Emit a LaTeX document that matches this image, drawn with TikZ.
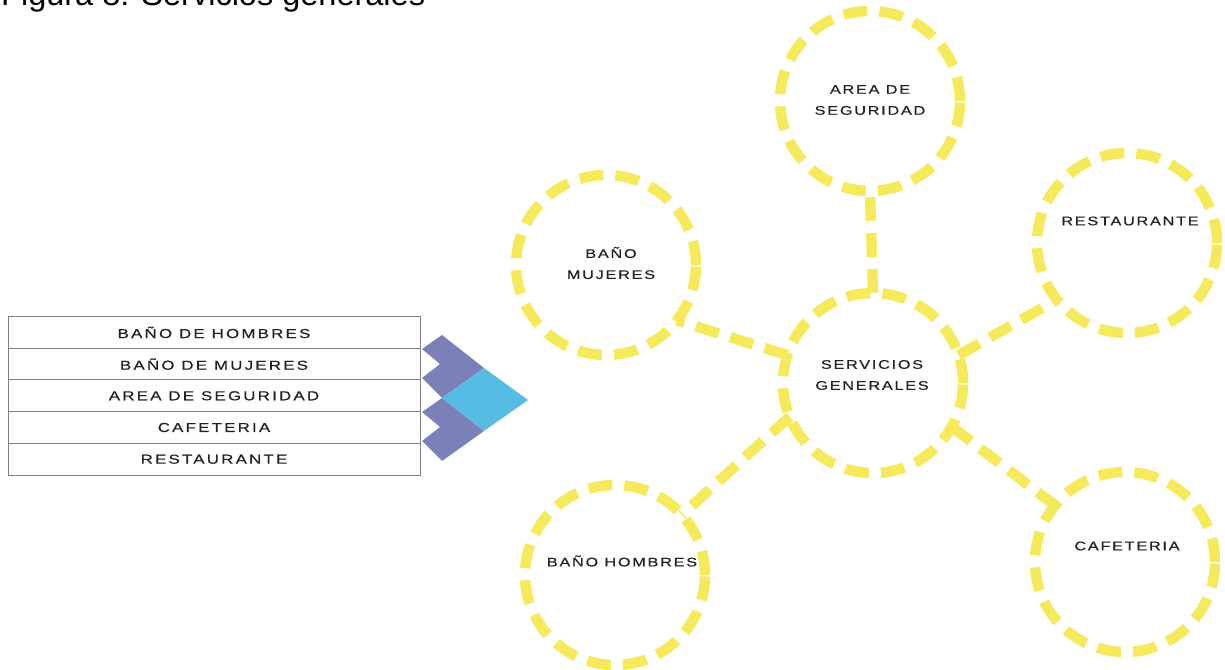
\documentclass[tikz,border=0pt]{standalone}
\usepackage{fontspec}
\setmainfont{Liberation Sans}
\newfontfamily\rotulofont[FakeStretch=1.3,LetterSpace=14,FakeBold=0.5]{Liberation Sans}
\newfontfamily\filafont[FakeStretch=1.3,LetterSpace=17,FakeBold=0.5]{Liberation Sans}
\usetikzlibrary{positioning}

\definecolor{amarillo}{RGB}{244,234,92}
\definecolor{morado}{RGB}{123,128,184}
\definecolor{celeste}{RGB}{86,188,228}
\definecolor{borde}{RGB}{128,128,128}
\definecolor{texto}{RGB}{34,34,34}

\tikzset{
  zona/.style={circle, draw=amarillo, line width=10.5pt, dash pattern=on 24pt off 12pt,
    minimum size=180pt, inner sep=0pt, outer sep=0pt},
  enlace/.style={draw=amarillo, line width=10.5pt, dash pattern=on 24pt off 12pt},
  rotulo/.style={font=\rotulofont\fontsize{12.5}{21}\selectfont, text=texto,
    align=center, inner sep=0pt},
  fila/.style={draw=borde, line width=1pt, minimum width=412pt, minimum height=31.7pt,
    inner sep=0pt, outer sep=0pt, font=\filafont\fontsize{13}{13}\selectfont, text=texto},
  titulo/.style={font=\fontsize{32.5}{36}\selectfont, inner sep=0pt}
}

\begin{document}
\begin{tikzpicture}[x=1pt,y=-1pt]
          \useasboundingbox (0,0) rectangle (1225,669);
          \node[titulo, anchor=base west] (titulo) at (1,6) {Figura 8: Servicios generales};

          % tabla de servicios
          \node[fila] (f1) at (214,332.4) {BAÑO DE HOMBRES};
          \node[fila, below=0pt of f1] (f2) {BAÑO DE MUJERES};
          \node[fila, below=0pt of f2] (f3) {AREA DE SEGURIDAD};
          \node[fila, below=0pt of f3] (f4) {CAFETERIA};
          \node[fila, below=0pt of f4] (f5) {RESTAURANTE};

          % flecha
          \fill[morado] (422,349) -- (442,335) -- (484,368) -- (442,398) -- (422,378) -- (440,364) -- cycle;
          \fill[morado] (422,412) -- (442,398) -- (484,431) -- (442,461) -- (422,441) -- (440,427) -- cycle;
          \fill[celeste] (484,368) -- (528,400) -- (484,431) -- (442,398) -- cycle;

          % zonas
          \node[zona] (sg) at (873,383) {};
          \node[zona] (seg) at (870,101) {};
          \node[zona] (bm) at (606,265) {};
          \node[zona] (rest) at (1127,243) {};
          \node[zona] (bh) at (615,575) {};
          \node[zona] (caf) at (1125,562) {};

          \node[rotulo] (sg-t) at (872,375) {SERVICIOS\\GENERALES};
          \node[rotulo] (seg-t) at (870,100) {AREA DE\\SEGURIDAD};
          \node[rotulo] (bm-t) at (611,263) {BAÑO\\MUJERES};
          \node[rotulo] (rest-t) at (1130,221) {RESTAURANTE};
          \node[rotulo] (bh-t) at (622,561) {BAÑO HOMBRES};
          \node[rotulo] (caf-t) at (1127,546) {CAFETERIA};

          % enlaces
          \draw[enlace] (sg.north) -- (seg.south);
          \draw[enlace] (sg.162) -- (bm.-38);
          \draw[enlace] (sg.18) -- (rest.219);
          \draw[enlace] (sg.202) -- (bh.42);
          \draw[enlace] (sg.331) -- (caf.141);
\end{tikzpicture}
\end{document}
